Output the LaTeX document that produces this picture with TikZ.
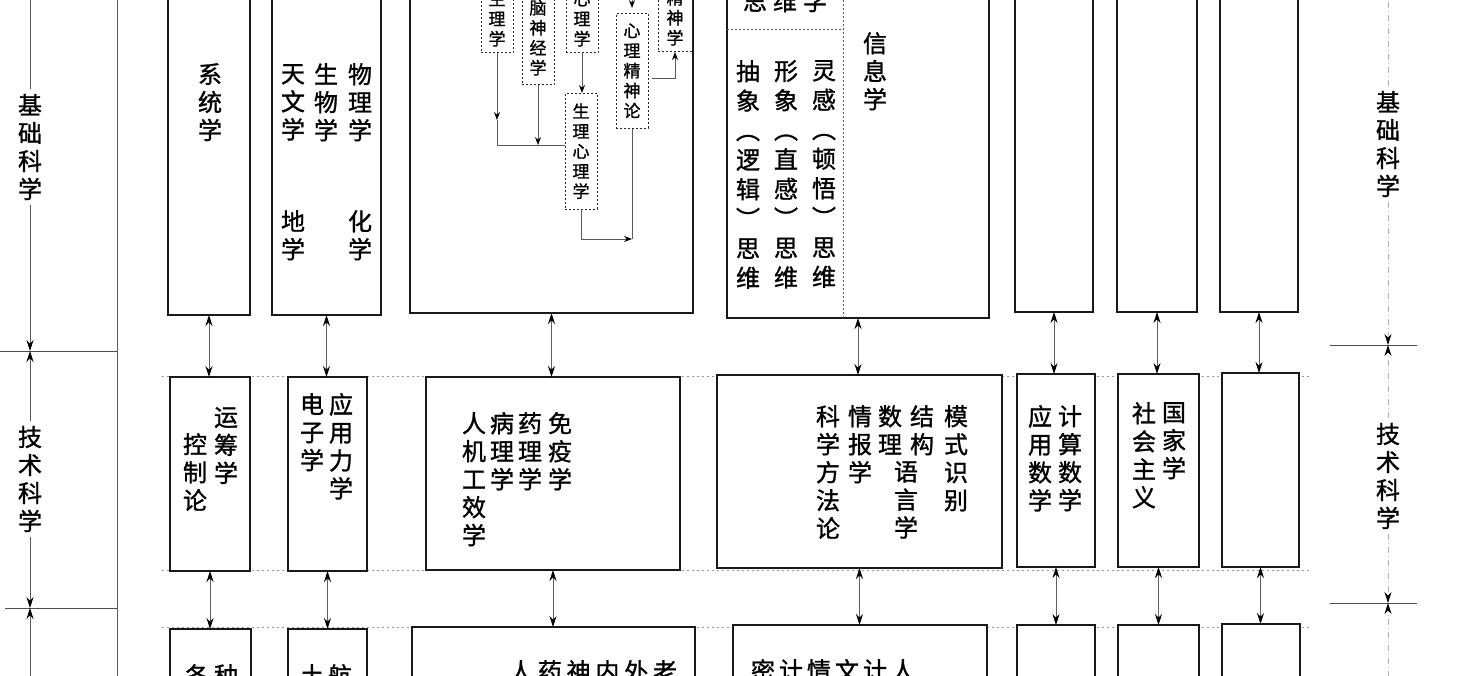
\documentclass[tikz,border=0pt]{standalone}
\usepackage{graphicx}
\usepackage{fontspec}
\newfontfamily\cjk[FakeBold=1.2]{Noto Sans CJK SC}
\newcommand{\vparL}{\rotatebox[origin=c]{-90}{（}}
\newcommand{\vparR}{\rotatebox[origin=c]{-90}{）}}
\usetikzlibrary{arrows.meta}
\begin{document}
\begin{tikzpicture}[x=1pt,y=-1pt,
  box/.style={draw=black!90, line width=1.6pt, fill=white, inner sep=0pt, outer sep=0pt, anchor=north west},
  vt/.style={font=\cjk\fontsize{24}{28}\selectfont, align=center, inner sep=0pt, anchor=north},
  vtb/.style={font=\cjk\fontsize{24}{29.5}\selectfont, align=center, inner sep=0pt, anchor=north},
  lbl/.style={font=\cjk\fontsize{24}{28}\selectfont, align=center, inner xsep=0pt, inner ysep=5pt, fill=white},
  dbox/.style={draw=black!85, line width=0.8pt, dash pattern=on 2pt off 2pt, fill=white, font=\cjk\fontsize{17}{20}\selectfont, align=center, inner xsep=7.5pt, inner ysep=6pt},
  dbl/.style={draw=gray!75!black, line width=0.8pt, arrows={Stealth[length=11pt,width=7pt,color=black]-Stealth[length=11pt,width=7pt,color=black]}},
  tarr/.style={draw=gray!70!black, line width=0.8pt, arrows={-Stealth[length=8pt,width=6pt,color=black]}},
  gline/.style={draw=gray!70!black, line width=0.8pt},
  axl/.style={draw=gray!70!black, line width=0.8pt},
  axa/.style={draw=gray!70!black, line width=0.8pt, arrows={-Stealth[length=11pt,width=7pt,color=black]}},
  raxl/.style={draw=gray!60, line width=0.8pt, dash pattern=on 6pt off 3pt on 1pt off 3pt},
  raxa/.style={raxl, arrows={-Stealth[length=11pt,width=7pt,color=black]}},
  hl/.style={draw=gray!60!black, line width=1pt},
  dotline/.style={draw=gray!80, line width=0.8pt, dash pattern=on 2pt off 3pt},
  dsep/.style={draw=gray!70!black, line width=0.7pt, dash pattern=on 2pt off 2pt}
]
\useasboundingbox (0,0) rectangle (1482,675);
\clip (0,0) rectangle (1482,675);
\fill[white] (0,0) rectangle (1482,675);

% ---------- left axis ----------
\coordinate (LT) at (30,-5);
\coordinate (LA) at (30,351);
\coordinate (LB) at (30,608);
\coordinate (LE) at (30,690);
\coordinate (H1a) at (0,351);   \coordinate (H1b) at (117,351);
\coordinate (H2a) at (5,608);   \coordinate (H2b) at (117,608);
\coordinate (V1) at (117,-5);   \coordinate (V2) at (117,690);
\draw[axl] (V1) -- (V2);
\draw[hl] (H1a) -- (H1b);
\draw[hl] (H2a) -- (H2b);
\node[lbl] (lb1) at (30,147) {基\\础\\科\\学};
\node[lbl] (lt1) at (30,479) {技\\术\\科\\学};
\draw[axl] (lb1.north) -- (LT);
\draw[axa] (lb1.south) -- (LA);
\draw[axa] (lt1.north) -- (LA);
\draw[axa] (lt1.south) -- (LB);
\draw[axa] (LE) -- (LB);

% ---------- right axis ----------
\coordinate (RT) at (1388,-5);
\coordinate (RA) at (1388,345);
\coordinate (RB) at (1388,603);
\coordinate (RE) at (1388,690);
\coordinate (R1a) at (1330,345); \coordinate (R1b) at (1417,345);
\coordinate (R2a) at (1330,603); \coordinate (R2b) at (1417,603);
\draw[hl] (R1a) -- (R1b);
\draw[hl] (R2a) -- (R2b);
\node[lbl] (rb1) at (1388,144) {基\\础\\科\\学};
\node[lbl] (rt1) at (1388,476) {技\\术\\科\\学};
\draw[raxl] (rb1.north) -- (RT);
\draw[raxa] (rb1.south) -- (RA);
\draw[raxa] (rt1.north) -- (RA);
\draw[raxa] (rt1.south) -- (RB);
\draw[raxa] (RE) -- (RB);

% ---------- dotted row separators ----------
\coordinate (D1a) at (162,376); \coordinate (D1b) at (1310,376);
\coordinate (D2a) at (162,570); \coordinate (D2b) at (1310,570);
\coordinate (D3a) at (162,627); \coordinate (D3b) at (1310,627);
\draw[dotline] (D1a) -- (D1b);
\draw[dotline] (D2a) -- (D2b);
\draw[dotline] (D3a) -- (D3b);

% ---------- boxes ----------
% row 1
\node[box, minimum width=82,  minimum height=355] (r1c1) at (168,-40) {};
\node[box, minimum width=109, minimum height=355] (r1c2) at (272,-40) {};
\node[box, minimum width=283, minimum height=353] (r1c3) at (410,-40) {};
\node[box, minimum width=262, minimum height=358] (r1c4) at (727,-40) {};
\node[box, minimum width=78,  minimum height=352] (r1c5) at (1015,-40) {};
\node[box, minimum width=80,  minimum height=352] (r1c6) at (1117,-40) {};
\node[box, minimum width=78,  minimum height=352] (r1c7) at (1220,-40) {};
% row 2
\node[box, minimum width=80,  minimum height=194] (r2c1) at (170,377) {};
\node[box, minimum width=79,  minimum height=194] (r2c2) at (288,377) {};
\node[box, minimum width=254, minimum height=193] (r2c3) at (426,377) {};
\node[box, minimum width=285, minimum height=193] (r2c4) at (717,375) {};
\node[box, minimum width=78,  minimum height=193] (r2c5) at (1017,374) {};
\node[box, minimum width=81,  minimum height=193] (r2c6) at (1118,374) {};
\node[box, minimum width=77,  minimum height=194] (r2c7) at (1222,373) {};
% row 3
\node[box, minimum width=81,  minimum height=91] (r3c1) at (170,629) {};
\node[box, minimum width=79,  minimum height=91] (r3c2) at (288,629) {};
\node[box, minimum width=283, minimum height=93] (r3c3) at (412,627) {};
\node[box, minimum width=254, minimum height=95] (r3c4) at (733,625) {};
\node[box, minimum width=78,  minimum height=95] (r3c5) at (1017,625) {};
\node[box, minimum width=81,  minimum height=95] (r3c6) at (1118,625) {};
\node[box, minimum width=78,  minimum height=96] (r3c7) at (1222,624) {};

% ---------- row connectors ----------
\foreach \c in {1,...,7}{
  \draw[dbl] (r1c\c.south) -- (r1c\c.south |- r2c\c.north);
  \draw[dbl] (r2c\c.south) -- (r2c\c.south |- r3c\c.north);
}

% ---------- row 1 texts ----------
\node[vt] (t11) at (210,63) {系\\统\\学};
\node[vt] (t12a) at (360,63) {物\\理\\学};
\node[vt] (t12b) at (326,63) {生\\物\\学};
\node[vt] (t12c) at (293,64) {天\\文\\学};
\node[vt] (t12d) at (360,210) {化\\学};
\node[vt] (t12e) at (293,210) {地\\学};

% human body science: dashed boxes
\node[dbox, anchor=south] (ds1) at (497,53) {生\\理\\学};
\node[dbox, anchor=south, inner ysep=9pt] (ds2) at (538,85) {脑\\神\\经\\学};
\node[dbox, anchor=south] (ds3) at (582,53) {心\\理\\学};
\node[dbox, anchor=north, inner ysep=10pt] (ds4) at (632,13) {心\\理\\精\\神\\论};
\node[dbox, anchor=south, inner xsep=8.5pt] (ds5) at (675,52) {精\\神\\学};
\node[dbox, anchor=north, inner ysep=10pt] (ds6) at (581,93) {生\\理\\心\\理\\学};
\coordinate (j1) at (497,120);
\coordinate (j2) at (497,145);
\coordinate (j3) at (581,239);
\coordinate (j4) at (652,78);
\coordinate (top4) at (632,-12);
\draw[tarr] (ds1.south) -- (j1);
\draw[gline] (j1) -- (j2) -- (ds6.west |- j2);
\draw[tarr] (ds2.south) -- (ds2.south |- j2);
\draw[tarr] (ds3.south) -- (ds3.south |- ds6.north);
\draw[tarr] (ds6.south) -- (j3) -- (ds4.south |- j3);
\draw[gline] (ds4.south) -- (ds4.south |- j3);
\draw[tarr] (j4) -- (ds5.south |- j4) -- (ds5.south);
\draw[tarr, shorten >=5pt] (top4) -- (ds4.north);

% thinking science
\coordinate (sepT) at (843,-40);
\coordinate (sepH) at (843,29);
\draw[dsep] (sepT) -- (sepT |- r1c4.south);
\draw[dsep] (r1c4.west |- sepH) -- (sepH);
\node[font=\cjk\fontsize{24}{28}\selectfont, inner sep=0pt] (t14a) at (785,1) {思\hspace{6pt}维\hspace{6pt}学};
\node[vtb] (t14b) at (748,60) {抽\\象\\\vparL\\逻\\辑\\\vparR\\思\\维};
\node[vtb] (t14c) at (786,60) {形\\象\\\vparL\\直\\感\\\vparR\\思\\维};
\node[vtb] (t14d) at (824,60) {灵\\感\\\vparL\\顿\\悟\\\vparR\\思\\维};
\node[vt] (t14e) at (875,32) {信\\息\\学};

% ---------- row 2 texts ----------
\node[vt] (t21a) at (226,407) {运\\筹\\学};
\node[vt] (t21b) at (195,433) {控\\制\\论};
\node[vt] (t22a) at (341,393) {应\\用\\力\\学};
\node[vt] (t22b) at (312,393) {电\\子\\学};
\node[vt] (t23a) at (474,412) {人\\机\\工\\效\\学};
\node[vt] (t23b) at (502,412) {病\\理\\学};
\node[vt] (t23c) at (530,412) {药\\理\\学};
\node[vt] (t23d) at (560,412) {免\\疫\\学};
\node[vt] (t24a) at (828,405) {科\\学\\方\\法\\论};
\node[vt] (t24b) at (860,405) {情\\报\\学};
\node[vt] (t24c) at (890,405) {数\\理};
\node[vt] (t24d) at (922,405) {结\\构};
\node[vt] (t24e) at (906,461) {语\\言\\学};
\node[vt] (t24f) at (956,405) {模\\式\\识\\别};
\node[vt] (t25a) at (1070,405) {计\\算\\数\\学};
\node[vt] (t25b) at (1040,405) {应\\用\\数\\学};
\node[vt] (t26a) at (1174,402) {国\\家\\学};
\node[vt] (t26b) at (1144,402) {社\\会\\主\\义};

% ---------- row 3 texts (cut off) ----------
\node[vt] (t31a) at (197,664) {各};
\node[vt] (t31b) at (226,664) {种};
\node[vt] (t32a) at (312,664) {土};
\node[vt] (t32b) at (340,664) {航};
\foreach \ch [count=\i from 0] in {人,药,神,内,外,老}
  \node[vt] (t33\i) at (521+28.8*\i,660) {\ch};
\foreach \ch [count=\i from 0] in {密,计,情,文,计,人}
  \node[vt] (t34\i) at (763+28*\i,659) {\ch};
\end{tikzpicture}
\end{document}
